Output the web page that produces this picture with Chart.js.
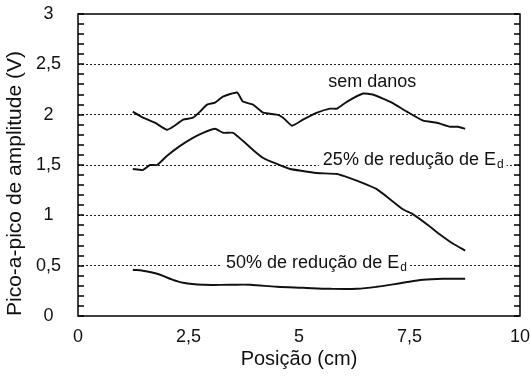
<!DOCTYPE html>
<html>
<head>
<meta charset="utf-8">
<script src="https://cdn.jsdelivr.net/npm/chart.js@4.4.0/dist/chart.umd.min.js"></script>
<style>
  body { margin: 0; background: #fff; }
  #caixa { width: 530px; height: 376px; }
</style>
</head>
<body>
<div id="caixa"><canvas id="grafico"></canvas></div>
<script>
// posição (cm) e amplitude pico-a-pico (V)
const posSemDanos = [1.24, 1.47, 1.74, 2.01, 2.15, 2.38, 2.60, 2.76, 2.92, 3.10, 3.28, 3.60, 3.73, 3.96, 4.19, 4.50, 4.64, 4.84, 5.09, 5.41, 5.70, 5.86, 6.09, 6.45, 6.67, 6.90, 7.10, 7.44, 7.81, 8.12, 8.42, 8.60, 8.76];
const ampSemDanos = [2.03, 1.97, 1.92, 1.85, 1.88, 1.95, 1.97, 2.03, 2.10, 2.12, 2.18, 2.22, 2.13, 2.10, 2.02, 2.00, 1.97, 1.89, 1.95, 2.02, 2.06, 2.06, 2.13, 2.21, 2.20, 2.16, 2.12, 2.03, 1.94, 1.92, 1.88, 1.88, 1.86];

const pos25 = [1.24, 1.47, 1.63, 1.79, 2.01, 2.31, 2.60, 2.83, 3.10, 3.28, 3.51, 3.73, 3.96, 4.19, 4.50, 4.80, 5.09, 5.41, 5.86, 6.15, 6.45, 6.76, 7.06, 7.35, 7.58, 7.90, 8.19, 8.48, 8.76];
const amp25 = [1.46, 1.45, 1.50, 1.50, 1.59, 1.69, 1.77, 1.82, 1.86, 1.82, 1.82, 1.74, 1.65, 1.57, 1.51, 1.46, 1.44, 1.42, 1.41, 1.37, 1.32, 1.26, 1.16, 1.06, 1.01, 0.91, 0.81, 0.72, 0.65];

const pos50 = [1.24, 1.47, 1.79, 2.08, 2.38, 2.83, 3.44, 3.89, 4.50, 5.09, 5.70, 6.31, 6.76, 7.35, 7.81, 8.26, 8.76];
const amp50 = [0.46, 0.45, 0.42, 0.37, 0.33, 0.31, 0.31, 0.31, 0.29, 0.28, 0.27, 0.27, 0.29, 0.33, 0.36, 0.37, 0.37];

const fonte = "'Liberation Sans', Arial, sans-serif";

function pontos(xs, ys) {
  return xs.map((x, i) => ({ x: x, y: ys[i] }));
}

function virgula(v) {
  return String(v).replace('.', ',');
}

// textos dentro do gráfico (coordenadas em unidades dos eixos)
const rotulos = [
  { texto: 'sem danos', x: 5.66, y: 2.275, fundo: false },
  { texto: '25% de redução de E', sub: 'd', x: 5.54, y: 1.50, fundo: true },
  { texto: '50% de redução de E', sub: 'd', x: 3.35, y: 0.477, fundo: true }
];

const extras = {
  id: 'extras',
  beforeDatasetsDraw(chart) {
    const ctx = chart.ctx;
    const sx = chart.scales.x, sy = chart.scales.y;
    ctx.save();
    ctx.textBaseline = 'alphabetic';
    rotulos.forEach(r => {
      const px = sx.getPixelForValue(r.x);
      const py = sy.getPixelForValue(r.y);
      ctx.font = '18px ' + fonte;
      const w1 = ctx.measureText(r.texto).width;
      let w2 = 0;
      if (r.sub) {
        ctx.font = '12px ' + fonte;
        w2 = ctx.measureText(r.sub).width;
      }
      if (r.fundo) {
        ctx.fillStyle = '#fff';
        ctx.fillRect(px - 4, py - 15, w1 + w2 + 8, 20);
      }
      ctx.fillStyle = '#111';
      ctx.font = '18px ' + fonte;
      ctx.fillText(r.texto, px, py);
      if (r.sub) {
        ctx.font = '12px ' + fonte;
        ctx.fillText(r.sub, px + w1 + 1, py + 3);
      }
    });
    ctx.restore();
  },
  afterDraw(chart) {
    const ctx = chart.ctx;
    const a = chart.chartArea;
    const sy = chart.scales.y;
    ctx.save();
    ctx.setLineDash([]);
    ctx.strokeStyle = '#000';
    ctx.lineWidth = 1.5;
    // marcas menores para dentro, a cada 0,1 (esquerda e direita)
    for (let i = 0; i <= 30; i++) {
      const py = Math.round(sy.getPixelForValue(i / 10));
      ctx.beginPath();
      ctx.moveTo(a.left, py);
      ctx.lineTo(a.left + 6, py);
      ctx.moveTo(a.right, py);
      ctx.lineTo(a.right - 6, py);
      ctx.stroke();
    }
    ctx.strokeRect(a.left, a.top, a.right - a.left, a.bottom - a.top);
    ctx.restore();
  }
};

const linha = {
  borderColor: '#111',
  borderWidth: 1.9,
  pointRadius: 0,
  fill: false
};

new Chart(document.getElementById('grafico'), {
  type: 'line',
  data: {
    datasets: [
      Object.assign({ label: 'sem danos', data: pontos(posSemDanos, ampSemDanos), tension: 0.15 }, linha),
      Object.assign({ label: '25% de redução de Ed', data: pontos(pos25, amp25), tension: 0.15 }, linha),
      Object.assign({ label: '50% de redução de Ed', data: pontos(pos50, amp50), tension: 0.35 }, linha)
    ]
  },
  options: {
    responsive: true,
    maintainAspectRatio: false,
    animation: false,
    layout: { padding: { top: 14, right: 10, left: 0, bottom: 0 } },
    plugins: {
      legend: { display: false },
      tooltip: { enabled: false }
    },
    scales: {
      x: {
        type: 'linear',
        min: 0,
        max: 10,
        afterFit: s => { s.height = 60; },
        ticks: {
          stepSize: 2.5,
          color: '#111',
          padding: 0,
          font: { family: fonte, size: 18 },
          callback: v => virgula(v)
        },
        grid: { drawOnChartArea: false, drawTicks: true, tickLength: 10, tickColor: 'rgba(0,0,0,0)' },
        border: { display: false },
        title: {
          display: true,
          text: 'Posição (cm)',
          color: '#111',
          font: { family: fonte, size: 20 },
          padding: { top: 4, bottom: 5 }
        }
      },
      y: {
        min: 0,
        max: 3,
        afterFit: s => { s.width = 78; },
        ticks: {
          stepSize: 0.5,
          color: '#111',
          padding: 2,
          crossAlign: 'center',
          font: { family: fonte, size: 18 },
          callback: v => virgula(v)
        },
        grid: {
          drawTicks: true,
          tickLength: 15,
          tickColor: 'rgba(0,0,0,0)',
          lineWidth: 1,
          color: c => (c.tick && (c.tick.value === 0 || c.tick.value === 3)) ? 'rgba(0,0,0,0)' : '#222'
        },
        border: { display: false, dash: [2, 2] },
        title: {
          display: true,
          text: 'Pico-a-pico de amplitude (V)',
          align: 'start',
          color: '#111',
          font: { family: fonte, size: 21 },
          padding: { top: 3, bottom: 4 }
        }
      }
    }
  },
  plugins: [extras]
});
</script>
</body>
</html>
